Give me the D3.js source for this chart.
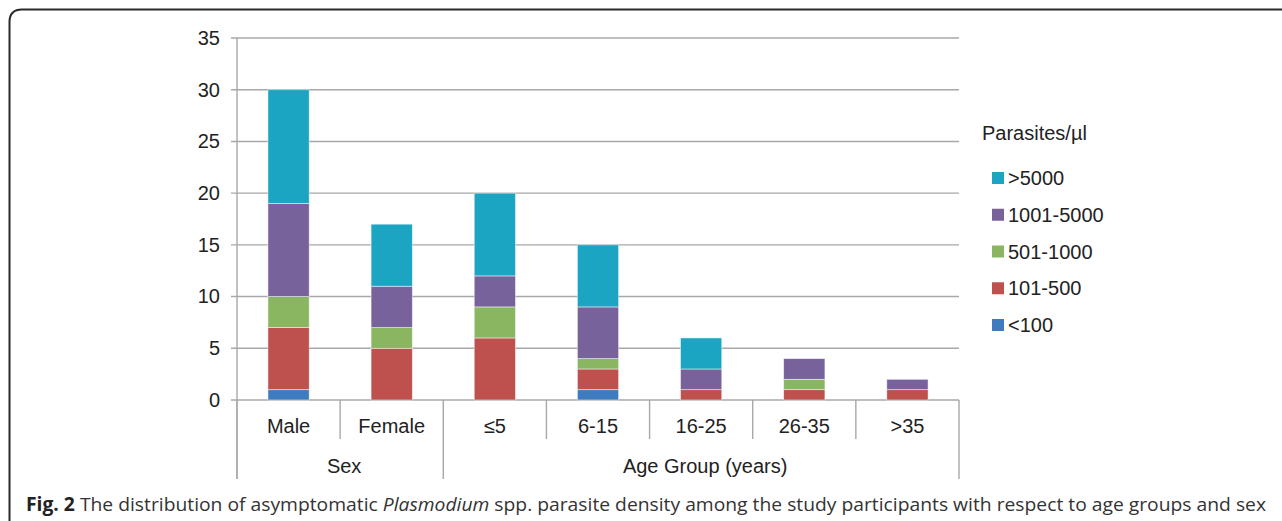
<!DOCTYPE html>
<html>
<head>
<meta charset="utf-8">
<script src="https://cdn.jsdelivr.net/npm/d3@7"></script>
<style>
  body { margin: 0; background: #fff; }
  svg { display: block; }
</style>
</head>
<body>
<div id="chart"></div>
<script>
// categories along the x axis, grouped as in the original figure
const categories = ['Male', 'Female', '≤5', '6-15', '16-25', '26-35', '>35'];
const groups = [
  { name: 'Sex', members: ['Male', 'Female'] },
  { name: 'Age Group (years)', members: ['≤5', '6-15', '16-25', '26-35', '>35'] }
];

// parasite density classes, bottom of the stack first
const densityKeys = ['<100', '101-500', '501-1000', '1001-5000', '>5000'];
const densityColors = ['#3f7cbf', '#be504e', '#8ab561', '#77629b', '#1ba5c3'];

// counts per category, one array per density class (same order as categories)
const lt100     = [1, 0, 0, 1, 0, 0, 0];
const d101_500  = [6, 5, 6, 2, 1, 1, 1];
const d501_1000 = [3, 2, 3, 1, 0, 1, 0];
const d1001_5000 = [9, 4, 3, 5, 2, 2, 1];
const gt5000    = [11, 6, 8, 6, 3, 0, 0];

const yTicks = [0, 5, 10, 15, 20, 25, 30, 35];
const legendTitle = 'Parasites/µl';

const width = 1282, height = 521;
const plot = { left: 237, right: 959, top: 38, bottom: 400 };

const series = [lt100, d101_500, d501_1000, d1001_5000, gt5000];
const rows = categories.map((c, i) => {
  const r = { cat: c };
  densityKeys.forEach((k, j) => { r[k] = series[j][i]; });
  return r;
});
const stacked = d3.stack().keys(densityKeys)(rows);

const svg = d3.select('#chart').append('svg')
  .attr('width', width)
  .attr('height', height);

const font = "'Liberation Sans', Arial, sans-serif";

const x = d3.scaleBand().domain(categories).range([plot.left, plot.right]).padding(0);
const y = d3.scaleLinear().domain([0, 35]).range([plot.bottom, plot.top]);
const barW = x.bandwidth() * 0.4;

// gridlines
svg.append('g')
  .selectAll('line')
  .data(yTicks)
  .join('line')
  .attr('x1', plot.left - 6)
  .attr('x2', plot.right)
  .attr('y1', d => y(d))
  .attr('y2', d => y(d))
  .attr('stroke', '#a8a8a8')
  .attr('stroke-width', 1.4);

// y axis with labels
const yAxis = d3.axisLeft(y).tickValues(yTicks).tickSize(0).tickPadding(17);
const yg = svg.append('g').attr('transform', `translate(${plot.left},0)`).call(yAxis);
yg.select('.domain').remove();
yg.selectAll('text')
  .attr('font-family', font)
  .attr('font-size', 20)
  .attr('fill', '#222');

svg.append('line')
  .attr('x1', plot.left).attr('x2', plot.left)
  .attr('y1', plot.top).attr('y2', plot.bottom + 79)
  .attr('stroke', '#a8a8a8').attr('stroke-width', 1.4);

// stacked bars
svg.append('g')
  .selectAll('g')
  .data(stacked)
  .join('g')
  .attr('fill', (d, i) => densityColors[i])
  .selectAll('rect')
  .data(d => d.filter(s => s[1] > s[0]))
  .join('rect')
  .attr('x', d => x(d.data.cat) + (x.bandwidth() - barW) / 2)
  .attr('y', d => y(d[1]))
  .attr('width', barW)
  .attr('height', d => y(d[0]) - y(d[1]))
  .attr('stroke', 'rgba(255,255,255,0.6)')
  .attr('stroke-width', 0.8);

// category separators below the axis
const groupEdges = new Set([plot.left, plot.right]);
groups.forEach(g => {
  groupEdges.add(x(g.members[0]));
  groupEdges.add(x(g.members[g.members.length - 1]) + x.bandwidth());
});
const edges = categories.map(c => x(c)).concat([plot.right]);
svg.append('g')
  .selectAll('line')
  .data(edges)
  .join('line')
  .attr('x1', d => d)
  .attr('x2', d => d)
  .attr('y1', plot.bottom)
  .attr('y2', d => groupEdges.has(d) ? plot.bottom + 79 : plot.bottom + 39)
  .attr('stroke', '#a8a8a8')
  .attr('stroke-width', 1.4);

// category labels
svg.append('g')
  .selectAll('text')
  .data(categories)
  .join('text')
  .attr('x', d => x(d) + x.bandwidth() / 2)
  .attr('y', plot.bottom + 33)
  .attr('text-anchor', 'middle')
  .attr('font-family', font)
  .attr('font-size', 20)
  .attr('fill', '#222')
  .text(d => d);

// group labels
svg.append('g')
  .selectAll('text')
  .data(groups)
  .join('text')
  .attr('x', g => (x(g.members[0]) + x(g.members[g.members.length - 1]) + x.bandwidth()) / 2 + 4)
  .attr('y', plot.bottom + 73)
  .attr('text-anchor', 'middle')
  .attr('font-family', font)
  .attr('font-size', 20)
  .attr('fill', '#222')
  .text(g => g.name);

// legend
const legend = svg.append('g').attr('transform', 'translate(982,0)');
legend.append('text')
  .attr('x', 0)
  .attr('y', 140)
  .attr('font-family', font)
  .attr('font-size', 20)
  .attr('fill', '#222')
  .text(legendTitle);

const legendOrder = densityKeys.slice().reverse();
const ly = d3.scalePoint().domain(legendOrder).range([178, 325]);
const items = legend.selectAll('g.item')
  .data(legendOrder)
  .join('g')
  .attr('class', 'item')
  .attr('transform', d => `translate(0,${ly(d)})`);
items.append('rect')
  .attr('x', 10)
  .attr('y', -6)
  .attr('width', 12)
  .attr('height', 12)
  .attr('fill', d => densityColors[densityKeys.indexOf(d)]);
items.append('text')
  .attr('x', 26)
  .attr('y', 7)
  .attr('font-family', font)
  .attr('font-size', 20)
  .attr('fill', '#222')
  .text(d => d);

// frame (open at the bottom and right, as cropped in the source)
svg.append('path')
  .attr('d', `M9.5,${height} L9.5,22 Q9.5,9.5 22,9.5 L${width},9.5`)
  .attr('fill', 'none')
  .attr('stroke', '#2a2a2a')
  .attr('stroke-width', 2);

// caption
const cap = svg.append('text')
  .attr('x', 26)
  .attr('y', 511)
  .attr('font-family', "'Open Sans', sans-serif")
  .attr('font-size', 19)
  .attr('fill', '#333')
  .attr('textLength', 1240)
  .attr('lengthAdjust', 'spacingAndGlyphs');
cap.append('tspan').attr('font-weight', 'bold').attr('fill', '#222').text('Fig. 2');
cap.append('tspan').text(' The distribution of asymptomatic ');
cap.append('tspan').attr('font-style', 'italic').text('Plasmodium');
cap.append('tspan').text(' spp. parasite density among the study participants with respect to age groups and sex');
</script>
</body>
</html>
